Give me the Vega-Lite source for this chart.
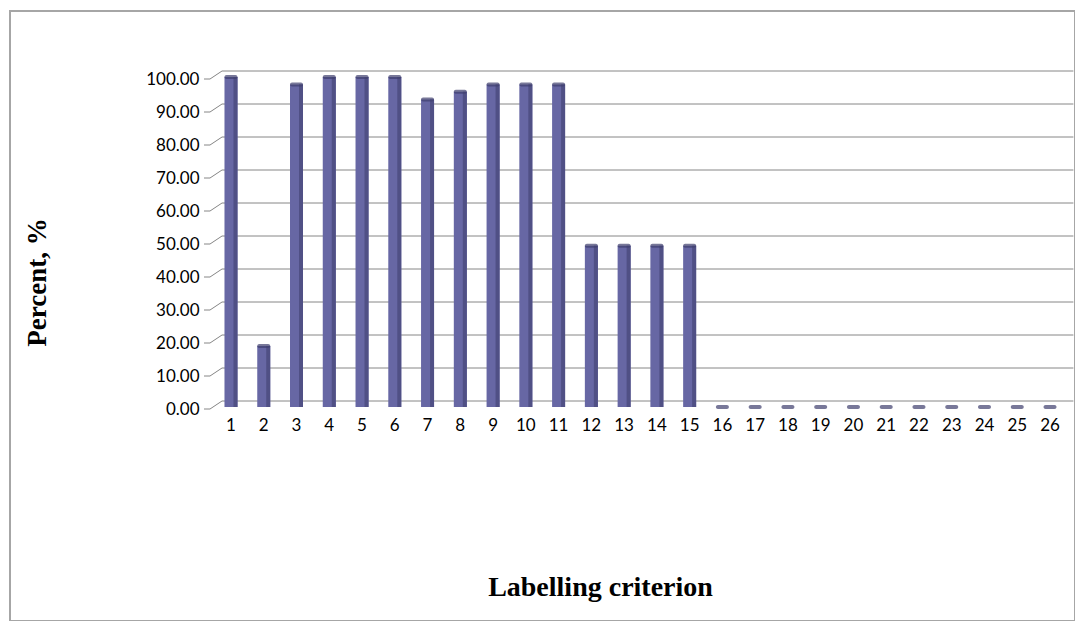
{
  "$schema": "https://vega.github.io/schema/vega-lite/v6.json",
  "width": 1065,
  "height": 610,
  "autosize": {"type": "none"},
  "padding": {"left": 10, "top": 11, "right": 0, "bottom": 0},
  "background": "white",
  "config": {
    "view": {"stroke": "#a6a6a6", "strokeWidth": 2},
    "axis": {"labelColor": "#000000", "titleColor": "#000000"}
  },
  "datasets": {
    "scores": [
      {"criterion": 1, "percent": 100},
      {"criterion": 2, "percent": 18.5},
      {"criterion": 3, "percent": 97.7},
      {"criterion": 4, "percent": 100},
      {"criterion": 5, "percent": 100},
      {"criterion": 6, "percent": 100},
      {"criterion": 7, "percent": 93.2},
      {"criterion": 8, "percent": 95.5},
      {"criterion": 9, "percent": 97.7},
      {"criterion": 10, "percent": 97.7},
      {"criterion": 11, "percent": 97.7},
      {"criterion": 12, "percent": 48.9},
      {"criterion": 13, "percent": 48.9},
      {"criterion": 14, "percent": 48.9},
      {"criterion": 15, "percent": 48.9},
      {"criterion": 16, "percent": 0},
      {"criterion": 17, "percent": 0},
      {"criterion": 18, "percent": 0},
      {"criterion": 19, "percent": 0},
      {"criterion": 20, "percent": 0},
      {"criterion": 21, "percent": 0},
      {"criterion": 22, "percent": 0},
      {"criterion": 23, "percent": 0},
      {"criterion": 24, "percent": 0},
      {"criterion": 25, "percent": 0},
      {"criterion": 26, "percent": 0}
    ],
    "grid": [
      {"v": 0}, {"v": 10}, {"v": 20}, {"v": 30}, {"v": 40}, {"v": 50},
      {"v": 60}, {"v": 70}, {"v": 80}, {"v": 90}, {"v": 100}
    ],
    "floor": [{"v": 0}]
  },
  "encoding": {
    "x": {
      "field": "criterion",
      "type": "ordinal",
      "scale": {
        "domain": [1, 2, 3, 4, 5, 6, 7, 8, 9, 10, 11, 12, 13, 14, 15, 16, 17, 18, 19, 20, 21, 22, 23, 24, 25, 26],
        "range": [204.6, 1056.4],
        "paddingInner": 0,
        "paddingOuter": 0
      },
      "axis": {
        "orient": "bottom",
        "offset": -212,
        "domain": false,
        "ticks": false,
        "tickSize": 0,
        "grid": false,
        "labelAngle": 0,
        "labelPadding": 8,
        "labelFont": "Lato",
        "labelFontSize": 17,
        "title": "Labelling criterion",
        "titleFont": "Liberation Serif",
        "titleFontSize": 28,
        "titleFontWeight": "bold",
        "titleX": 590,
        "titleY": 178,
        "titleAlign": "center",
        "titleBaseline": "middle"
      }
    },
    "y": {
      "field": "percent",
      "type": "quantitative",
      "scale": {"domain": [0, 100], "range": [396, 66], "nice": false},
      "axis": {
        "orient": "left",
        "offset": -200,
        "domain": false,
        "ticks": false,
        "tickSize": 0,
        "grid": false,
        "values": [0, 10, 20, 30, 40, 50, 60, 70, 80, 90, 100],
        "format": ".2f",
        "labelPadding": 11,
        "labelOffset": 2,
        "labelFont": "Lato",
        "labelFontSize": 17,
        "title": "Percent, %",
        "titleFont": "Liberation Serif",
        "titleFontSize": 27,
        "titleFontWeight": "bold",
        "titleAngle": -90,
        "titleX": -173,
        "titleY": 271,
        "titleAlign": "center",
        "titleBaseline": "middle"
      }
    }
  },
  "layer": [
    {
      "data": {"name": "grid"},
      "mark": {"type": "rule", "color": "#868686", "strokeWidth": 1, "xOffset": 7.4, "x2Offset": 7, "yOffset": -6},
      "encoding": {
        "x": {"datum": 1, "type": "ordinal", "bandPosition": 0},
        "x2": {"datum": 26, "bandPosition": 1},
        "y": {"field": "v", "type": "quantitative"}
      }
    },
    {
      "data": {"name": "grid"},
      "mark": {"type": "rule", "color": "#868686", "strokeWidth": 1, "xOffset": -4.6, "x2Offset": 7.4, "yOffset": 2, "y2Offset": -6},
      "encoding": {
        "x": {"datum": 1, "type": "ordinal", "bandPosition": 0},
        "x2": {"datum": 1, "bandPosition": 0},
        "y": {"field": "v", "type": "quantitative"},
        "y2": {"field": "v"}
      }
    },
    {
      "data": {"name": "grid"},
      "mark": {"type": "rule", "color": "#868686", "strokeWidth": 1, "xOffset": -10.6, "x2Offset": -4.6, "yOffset": 2},
      "encoding": {
        "x": {"datum": 1, "type": "ordinal", "bandPosition": 0},
        "x2": {"datum": 1, "bandPosition": 0},
        "y": {"field": "v", "type": "quantitative"}
      }
    },
    {
      "data": {"name": "floor"},
      "mark": {"type": "rule", "color": "#a0a0a0", "strokeWidth": 1, "xOffset": -4.6, "yOffset": 2, "y2Offset": 2},
      "encoding": {
        "x": {"datum": 1, "type": "ordinal", "bandPosition": 0},
        "y": {"datum": 0, "type": "quantitative"},
        "y2": {"datum": 100}
      }
    },
    {
      "data": {"name": "floor"},
      "mark": {"type": "rule", "color": "#868686", "strokeWidth": 1, "xOffset": -4.6, "x2Offset": -3.4, "yOffset": 2},
      "encoding": {
        "x": {"datum": 1, "type": "ordinal", "bandPosition": 0},
        "x2": {"datum": 26, "bandPosition": 1},
        "y": {"datum": 0, "type": "quantitative"}
      }
    },
    {
      "data": {"name": "floor"},
      "mark": {"type": "rule", "color": "#868686", "strokeWidth": 1, "xOffset": -3.4, "x2Offset": 7, "yOffset": 2, "y2Offset": -6},
      "encoding": {
        "x": {"datum": 26, "type": "ordinal", "bandPosition": 1},
        "x2": {"datum": 26, "bandPosition": 1},
        "y": {"datum": 0, "type": "quantitative"},
        "y2": {"datum": 0}
      }
    },
    {
      "data": {"name": "scores"},
      "mark": {"type": "bar", "size": 13, "color": "#6767a4"}
    },
    {
      "data": {"name": "scores"},
      "mark": {"type": "bar", "size": 4, "xOffset": 4.5, "color": "#505085"}
    },
    {
      "data": {"name": "scores"},
      "mark": {"type": "tick", "size": 13, "thickness": 4, "cornerRadius": 2, "color": "#3f3f6e"}
    }
  ]
}
